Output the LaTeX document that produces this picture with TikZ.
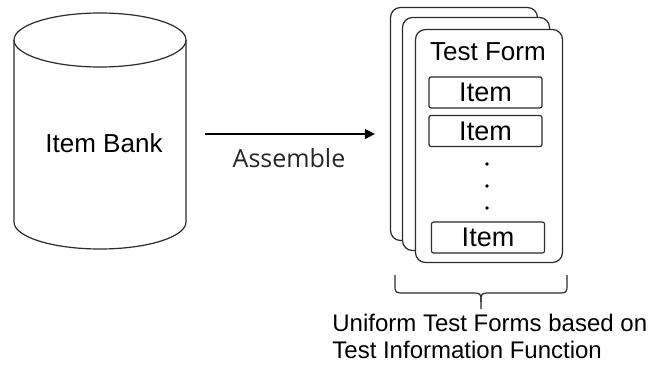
\documentclass[tikz,border=0pt]{standalone}
\usepackage{fontspec}
\setmainfont{Liberation Sans}
\newfontfamily\assemblefont{Open Sans}
\usepackage{tikz}
\usetikzlibrary{arrows.meta,positioning,calc}
\definecolor{linedark}{HTML}{2B2B2B}
\tikzset{
  form/.style={draw=linedark, fill=white, rounded corners=5pt, line width=0.6pt, minimum width=73.5pt, minimum height=116.5pt, inner sep=0pt},
  itembox/.style={draw=linedark, rounded corners=1pt, line width=0.6pt, minimum width=56.5pt, minimum height=15.5pt, inner sep=0pt, font=\fontsize{13.5}{16}\selectfont},
  label/.style={inner sep=0pt, font=\fontsize{13}{15}\selectfont},
  arrow/.style={-{Triangle[length=5pt,width=5pt]}, line width=0.7pt, draw=black},
  brace/.style={draw=linedark, line width=0.6pt}
}

\begin{document}
\begin{tikzpicture}[x=0.5pt,y=-0.5pt]
  \useasboundingbox (0,0) rectangle (670,380);

  % item bank (cylinder)
  \draw[linedark, line width=0.6pt] (14,40) -- (14,222)
    arc[start angle=180, end angle=0, x radius=86, y radius=27] -- (186,40);
  \draw[linedark, line width=0.6pt] (100,40) ellipse[x radius=86, y radius=27];
  \node[label] (bank) at (104,143) {Item Bank};

  % stacked test forms
  \node[form] (back) at (464,124) {};
  \node[form] (middle) at (476,134) {};
  \node[form] (front) at (489,146) {};
  \node[label] (title) at (488,52) {Test Form};
  \node[itembox] (item1) at (485.5,92.5) {Item};
  \node[itembox] (item2) at (485.5,131) {Item};
  \node[itembox] (item3) at (488,237.5) {Item};
  \foreach \y in {164,186,208}
    \fill[black] (487,\y) circle[radius=1.9];

  % assemble arrow
  \coordinate (assemblefrom) at (205,134);
  \draw[arrow, shorten >=7.5pt] (assemblefrom) -- (assemblefrom -| back.west);
  \node[inner sep=0pt, font=\assemblefont\fontsize{12.5}{15}\selectfont, text=black!85] (assemble) at (289,158) {Assemble};

  % brace under the forms
  \draw[brace] (395,275) -- (395,284) .. controls (395,293) .. (405,293) -- (471,293)
    .. controls (481,293) .. (481,302) -- (481,309);
  \draw[brace] (567,275) -- (567,284) .. controls (567,293) .. (557,293) -- (491,293)
    .. controls (481,293) .. (481,302);

  \node[anchor=north west, inner sep=0pt, align=left, font=\fontsize{12}{13.5}\selectfont] (caption) at (332,314)
    {Uniform Test Forms based on\\Test Information Function};
\end{tikzpicture}
\end{document}
